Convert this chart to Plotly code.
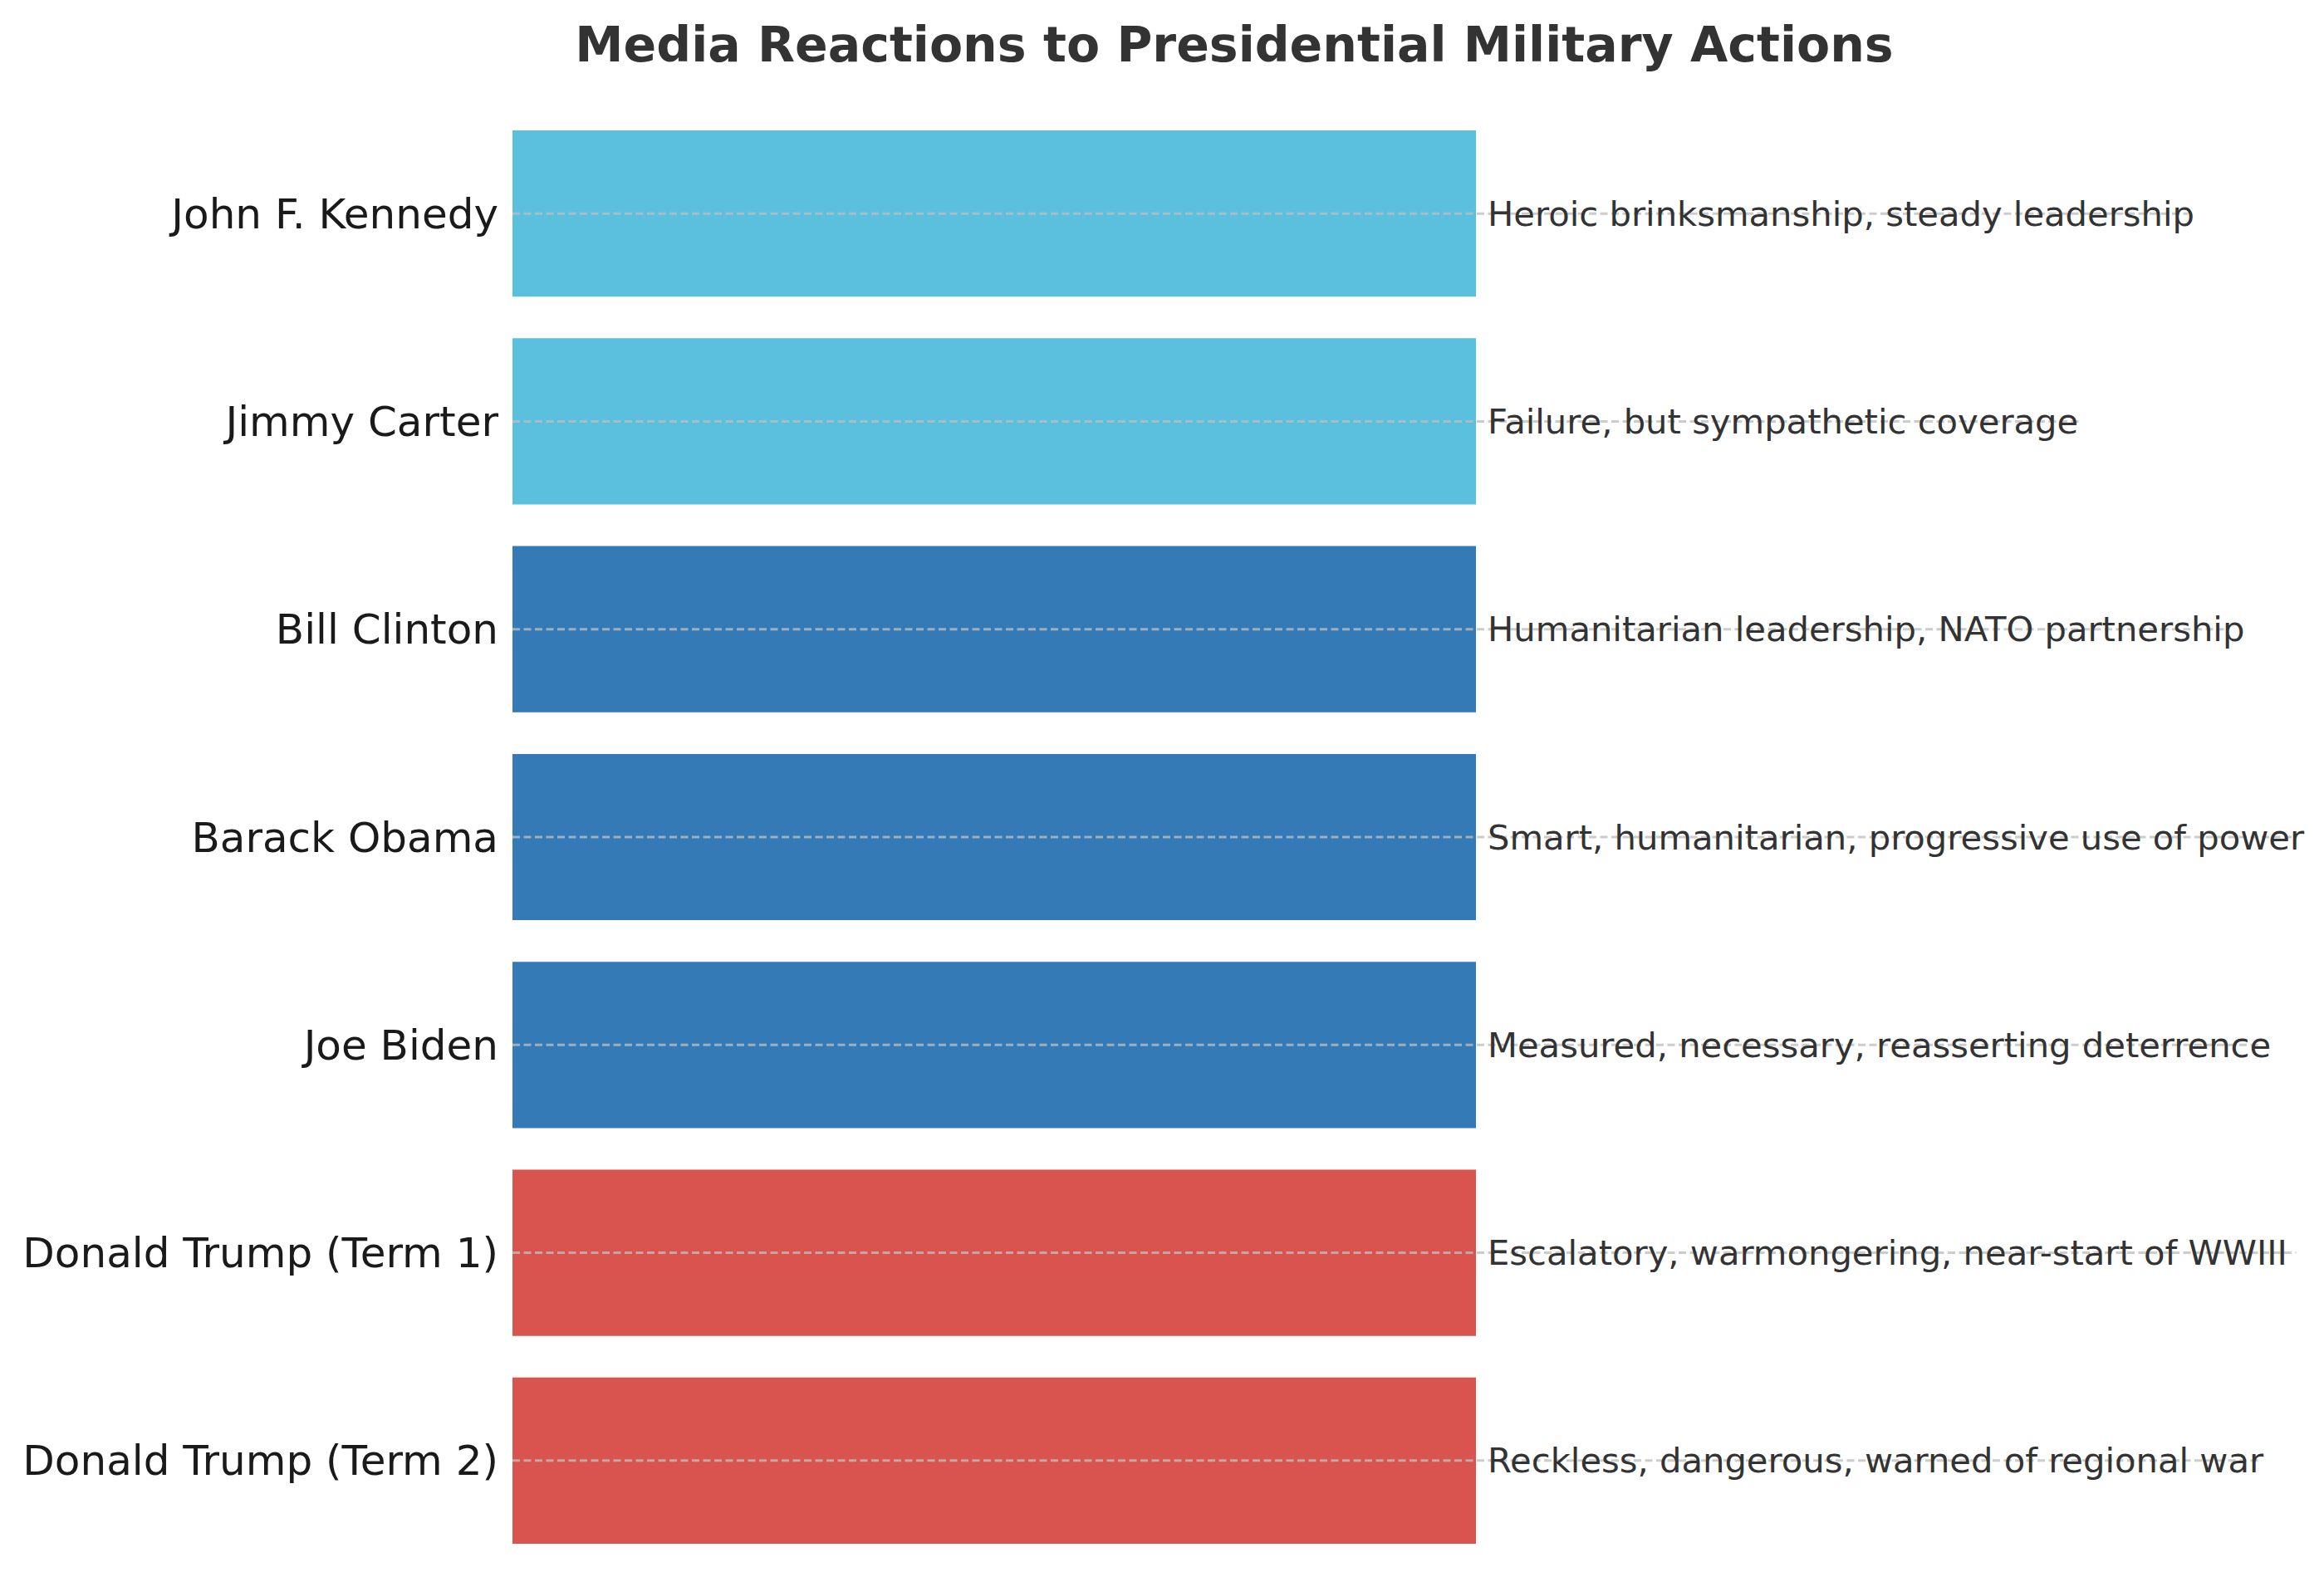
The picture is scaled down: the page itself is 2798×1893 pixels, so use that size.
import plotly.graph_objects as go

# data ---------------------------------
presidents = ["John F. Kennedy", "Jimmy Carter", "Bill Clinton", "Barack Obama",
              "Joe Biden", "Donald Trump (Term 1)", "Donald Trump (Term 2)"]
reactions = ["Heroic brinksmanship, steady leadership",
             "Failure, but sympathetic coverage",
             "Humanitarian leadership, NATO partnership",
             "Smart, humanitarian, progressive use of power",
             "Measured, necessary, reasserting deterrence",
             "Escalatory, warmongering, near-start of WWIII",
             "Reckless, dangerous, warned of regional war"]
groups = ["cold war", "cold war", "democrat", "democrat", "democrat", "trump", "trump"]
values = [1, 1, 1, 1, 1, 1, 1]

group_colors = {"cold war": "#5bc0de", "democrat": "#337ab7", "trump": "#d9534f"}

W, H = 2798, 1893
off = 8                          # page body margin in the browser
left, right = 617 - off, 2780    # plot area in px
bar_px = 1160                    # px per unit on x
xmax = (right - left) / bar_px
ann_size = 41.7
char_w = 0.52 * ann_size         # rough DejaVu char width, for the dashed line ends

fig = go.Figure()
fig.add_trace(go.Bar(
    x=values, y=presidents, orientation="h", width=0.8,
    marker=dict(color=[group_colors[g] for g in groups], line=dict(width=0)),
    hoverinfo="skip", showlegend=False
))

# dashed guide line per row, drawn above the bars up to the end of the text
lx, ly = [], []
for p, r, v in zip(presidents, reactions, values):
    end = v + 0.01 + len(r) * char_w / bar_px
    lx += [0, end, None]
    ly += [p, p, None]
fig.add_trace(go.Scatter(
    x=lx, y=ly, mode="lines",
    line=dict(color="rgba(190,190,190,0.78)", width=3, dash="9px,4.5px"),
    hoverinfo="skip", showlegend=False, cliponaxis=False
))

for p, r, v in zip(presidents, reactions, values):
    fig.add_annotation(x=v + 0.01, y=p, text=r, showarrow=False,
                       xanchor="left", yanchor="middle",
                       font=dict(size=ann_size, color="#333333", family="DejaVu Sans"))

fig.update_layout(
    width=W, height=H,
    margin=dict(l=left, r=W - right, t=132 - off, b=9 + off),
    plot_bgcolor="white", paper_bgcolor="white",
    font=dict(family="DejaVu Sans"),
    title=dict(text="<b>Media Reactions to Presidential Military Actions</b>",
               x=(1486 - off) / W, xanchor="center", xref="container",
               y=1 - (54 - off) / H, yanchor="middle", yref="container",
               font=dict(size=58.5, color="#333333", family="DejaVu Sans")),
    xaxis=dict(range=[0, xmax], visible=False, showgrid=False, zeroline=False),
    yaxis=dict(range=[6.5, -0.5], showgrid=False, zeroline=False, showline=False,
               ticks="", ticklabelstandoff=16,
               tickfont=dict(size=50, color="#1a1a1a", family="DejaVu Sans")),
)

fig.write_html("out.html")
